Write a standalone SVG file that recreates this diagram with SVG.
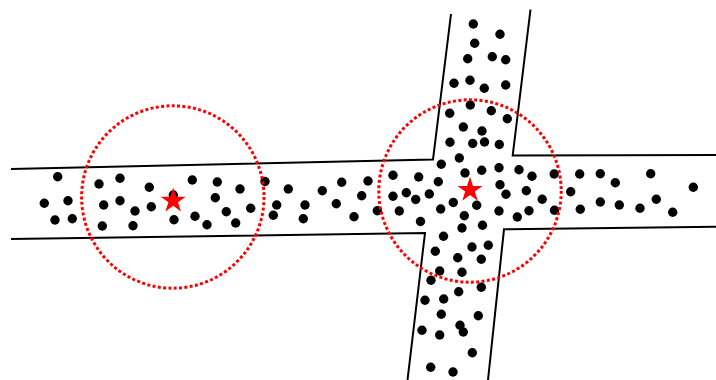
<svg xmlns="http://www.w3.org/2000/svg" xmlns:xlink="http://www.w3.org/1999/xlink" width="716" height="380" viewBox="0 0 716 380">
<style>
.road{fill:none;stroke:#000;stroke-width:2}
.dot{fill:#000}
.zone{fill:none;stroke:#f00;stroke-width:3;stroke-dasharray:3 2.35}
.star{fill:#f00}
</style>
<defs>
<path id="star" d="M0,-13.2 L2.97,-4.08 L12.55,-4.08 L4.8,1.56 L7.76,10.68 L0,5.05 L-7.76,10.68 L-4.8,1.56 L-12.55,-4.08 L-2.97,-4.08 Z"/>
<circle id="d" r="4.7"/>
</defs>
<rect width="716" height="380" fill="#fff"/>
<g id="roads">
<polyline class="road" points="11,169 433,159.5 451,14"/>
<polyline class="road" points="11,239 425,233 407.5,380"/>
<polyline class="road" points="530.5,9.5 512.7,155.5 716,155"/>
<polyline class="road" points="716,226.7 504,229.3 488,380"/>
</g>
<g id="dots" class="dot">
<use href="#d" x="57.7" y="176.7"/><use href="#d" x="44.3" y="203.3"/><use href="#d" x="68" y="200.7"/><use href="#d" x="55" y="220"/><use href="#d" x="72.3" y="218.7"/><use href="#d" x="99" y="184"/><use href="#d" x="120" y="178.3"/><use href="#d" x="103.7" y="205"/><use href="#d" x="120" y="200.7"/><use href="#d" x="135" y="211"/><use href="#d" x="102.3" y="226"/><use href="#d" x="133" y="225.7"/><use href="#d" x="149.3" y="187.3"/><use href="#d" x="151.3" y="206.7"/><use href="#d" x="173.3" y="195"/><use href="#d" x="174" y="219.7"/><use href="#d" x="192.3" y="180"/><use href="#d" x="217.3" y="182"/><use href="#d" x="215.3" y="197.7"/><use href="#d" x="195" y="216.3"/><use href="#d" x="207" y="224.7"/><use href="#d" x="226.3" y="211.7"/><use href="#d" x="235.7" y="223"/><use href="#d" x="240" y="189"/>
<use href="#d" x="265" y="181.5"/><use href="#d" x="276.7" y="205"/><use href="#d" x="273.3" y="215.3"/><use href="#d" x="250.7" y="208.3"/><use href="#d" x="288.3" y="189"/><use href="#d" x="305" y="205"/><use href="#d" x="303.3" y="218.7"/><use href="#d" x="322.3" y="190.7"/><use href="#d" x="341.7" y="182.3"/><use href="#d" x="336.3" y="203.7"/><use href="#d" x="354" y="216.7"/><use href="#d" x="368" y="181"/><use href="#d" x="361.7" y="195.7"/><use href="#d" x="377.3" y="210.7"/><use href="#d" x="393" y="175.3"/><use href="#d" x="418.7" y="177"/><use href="#d" x="393" y="196.3"/><use href="#d" x="406.3" y="192.7"/><use href="#d" x="415.7" y="199.5"/><use href="#d" x="399.3" y="211"/><use href="#d" x="420.5" y="221.5"/><use href="#d" x="429.3" y="194"/>
<use href="#d" x="473.3" y="24"/><use href="#d" x="500" y="34.3"/><use href="#d" x="474.7" y="43.3"/><use href="#d" x="467.7" y="58.7"/><use href="#d" x="492.3" y="56.7"/><use href="#d" x="505.7" y="59.7"/><use href="#d" x="454" y="83.3"/><use href="#d" x="470" y="80.3"/><use href="#d" x="484.3" y="88.3"/><use href="#d" x="505.7" y="85"/><use href="#d" x="470.3" y="105"/><use href="#d" x="449.7" y="113.3"/><use href="#d" x="491.3" y="110.7"/><use href="#d" x="507.3" y="118.7"/><use href="#d" x="463.3" y="127"/><use href="#d" x="482" y="131"/><use href="#d" x="450" y="142.3"/><use href="#d" x="472.7" y="143.5"/><use href="#d" x="484.5" y="142"/><use href="#d" x="499.3" y="144.5"/><use href="#d" x="459.3" y="158"/>
<use href="#d" x="441.3" y="164.3"/><use href="#d" x="465" y="173"/><use href="#d" x="481.7" y="170.3"/><use href="#d" x="499" y="167.7"/><use href="#d" x="519" y="169.7"/><use href="#d" x="532" y="176.3"/><use href="#d" x="554.2" y="174"/><use href="#d" x="438.3" y="181.7"/><use href="#d" x="500" y="184.7"/><use href="#d" x="506" y="194.3"/><use href="#d" x="526.3" y="190.7"/><use href="#d" x="542.2" y="199.2"/><use href="#d" x="453.3" y="202.5"/><use href="#d" x="476.7" y="205.3"/><use href="#d" x="440.7" y="209"/><use href="#d" x="499" y="211"/><use href="#d" x="529" y="210.7"/><use href="#d" x="517.3" y="217"/><use href="#d" x="554.5" y="210.2"/><use href="#d" x="464.3" y="215.7"/><use href="#d" x="482.5" y="225.2"/><use href="#d" x="462" y="228"/><use href="#d" x="443.5" y="236.3"/>
<use href="#d" x="579.7" y="174"/><use href="#d" x="600.3" y="173.7"/><use href="#d" x="615.3" y="182.7"/><use href="#d" x="650.7" y="173.7"/><use href="#d" x="570.7" y="191.7"/><use href="#d" x="693.3" y="187.3"/><use href="#d" x="580.3" y="209.3"/><use href="#d" x="600.3" y="202"/><use href="#d" x="619.3" y="205"/><use href="#d" x="640" y="208.3"/><use href="#d" x="656.3" y="199.3"/><use href="#d" x="672.7" y="212.3"/>
<use href="#d" x="472" y="247"/><use href="#d" x="488.3" y="245.3"/><use href="#d" x="435.3" y="251.3"/><use href="#d" x="457.7" y="257.7"/><use href="#d" x="481.3" y="259.3"/><use href="#d" x="439.7" y="271"/><use href="#d" x="462" y="272.3"/><use href="#d" x="431" y="280.3"/><use href="#d" x="458.7" y="291.7"/><use href="#d" x="481.3" y="287.3"/><use href="#d" x="425" y="300.3"/><use href="#d" x="443.7" y="299"/><use href="#d" x="441.3" y="314.3"/><use href="#d" x="478.3" y="315.7"/><use href="#d" x="460" y="325.3"/><use href="#d" x="463.3" y="332"/><use href="#d" x="422" y="330.3"/><use href="#d" x="439.7" y="335"/><use href="#d" x="472.3" y="352.7"/><use href="#d" x="430.7" y="367.3"/><use href="#d" x="453" y="372"/>
</g>
<g id="zone1">
<circle class="zone" cx="172.8" cy="197" r="91.2"/>
<use href="#star" class="star" x="173.2" y="200.8"/>
</g>
<g id="zone2">
<circle class="zone" cx="470" cy="191" r="91.2"/>
<use href="#star" class="star" x="470" y="190"/>
</g>
</svg>
